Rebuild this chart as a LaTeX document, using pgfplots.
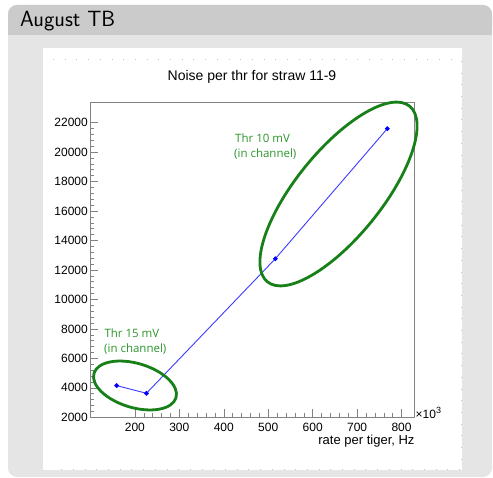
\documentclass[border=0pt]{standalone}
\usepackage{pgfplots}
\pgfplotsset{compat=1.18}
\usepackage{fontspec}
\setmainfont{Liberation Sans}
\newfontfamily\osans{Open Sans}
\usetikzlibrary{shapes.geometric}

\definecolor{hdr}{RGB}{203,203,203}
\definecolor{bodyg}{RGB}{229,229,229}
\definecolor{dotg}{RGB}{195,195,195}
\definecolor{ellg}{RGB}{24,128,24}
\definecolor{txtg}{RGB}{44,150,44}
\definecolor{lineb}{RGB}{60,60,255}
\definecolor{frameg}{RGB}{130,130,130}

\begin{document}
\begin{tikzpicture}[x=1pt,y=1pt]
% slide block
\path (0,0) rectangle (493,-478);
\fill[bodyg, rounded corners=9pt] (8,-5) rectangle (492,-477);
\fill[hdr, rounded corners=9pt] (8,-5) rectangle (492,-35);
\fill[hdr] (8,-22) rectangle (492,-35);
\node[anchor=base west, inner sep=0pt, font=\sffamily\fontsize{22}{26}\selectfont] at (20,-27) {August TB};
% white canvas
\fill[white] (43,-48) rectangle (462,-470);
\draw[dotg, line width=1pt, dash pattern=on 1pt off 10.7pt] (53,-60) -- (461.5,-60) -- (461.5,-469) -- (53,-469);

\begin{axis}[
    at={(90pt,-417.3pt)}, anchor=south west,
    scale only axis, width=324pt, height=314.6pt,
    xmin=99, xmax=828, ymin=2000, ymax=23350,
    xtick={200,300,...,800}, ytick={2000,4000,...,22000},
    minor tick num=4,
    tick align=inside, xtick pos=bottom, ytick pos=left,
    major tick length=8pt, minor tick length=4pt,
    axis line style={frameg}, every tick/.style={frameg, line width=0.5pt},
    tick label style={font=\fontsize{12}{14}\selectfont},
    yticklabel style={inner xsep=2pt},
    xticklabel style={yshift=-2.4pt},
    /pgf/number format/assume math mode=true,
    /pgf/number format/1000 sep={},
    scaled ticks=false, clip=false,
  ]
\addplot[lineb, line width=0.9pt, mark=*, mark size=1.9pt,
  mark options={fill=blue, draw=blue}]
  coordinates {(159,4150) (226,3630) (516,12760) (768,21590)};
\end{axis}

% annotations
\node[anchor=base, inner sep=0pt, font=\fontsize{14}{16}\selectfont] at (252,-80.7) {Noise per thr for straw 11-9};
\node[anchor=base east, inner sep=0pt, font=\fontsize{13}{15}\selectfont] at (414.7,-444.5) {rate per tiger, Hz};
\node[anchor=base west, inner sep=0pt, font=\fontsize{12}{14}\selectfont] at (415.5,-418.3) {×10\raisebox{4.5pt}{\fontsize{9}{9}\selectfont 3}};

\node[draw=ellg, line width=2.8pt, ellipse, inner sep=0pt, minimum width=226pt, minimum height=86pt, rotate=51] at (338.5,-194) {};
\node[draw=ellg, line width=2.8pt, ellipse, inner sep=0pt, minimum width=85.6pt, minimum height=44.2pt, rotate=-16.6] at (135,-385.5) {};

\begin{scope}[every node/.style={anchor=base west, inner sep=0pt, text=txtg, font=\osans\fontsize{11.5}{13}\selectfont}]
\node at (235,-142.7) {Thr 10 mV};
\node at (234,-157.3) {(in channel)};
\node at (104.3,-337.7) {Thr 15 mV};
\node at (104,-352.7) {(in channel)};
\end{scope}
\end{tikzpicture}
\end{document}
